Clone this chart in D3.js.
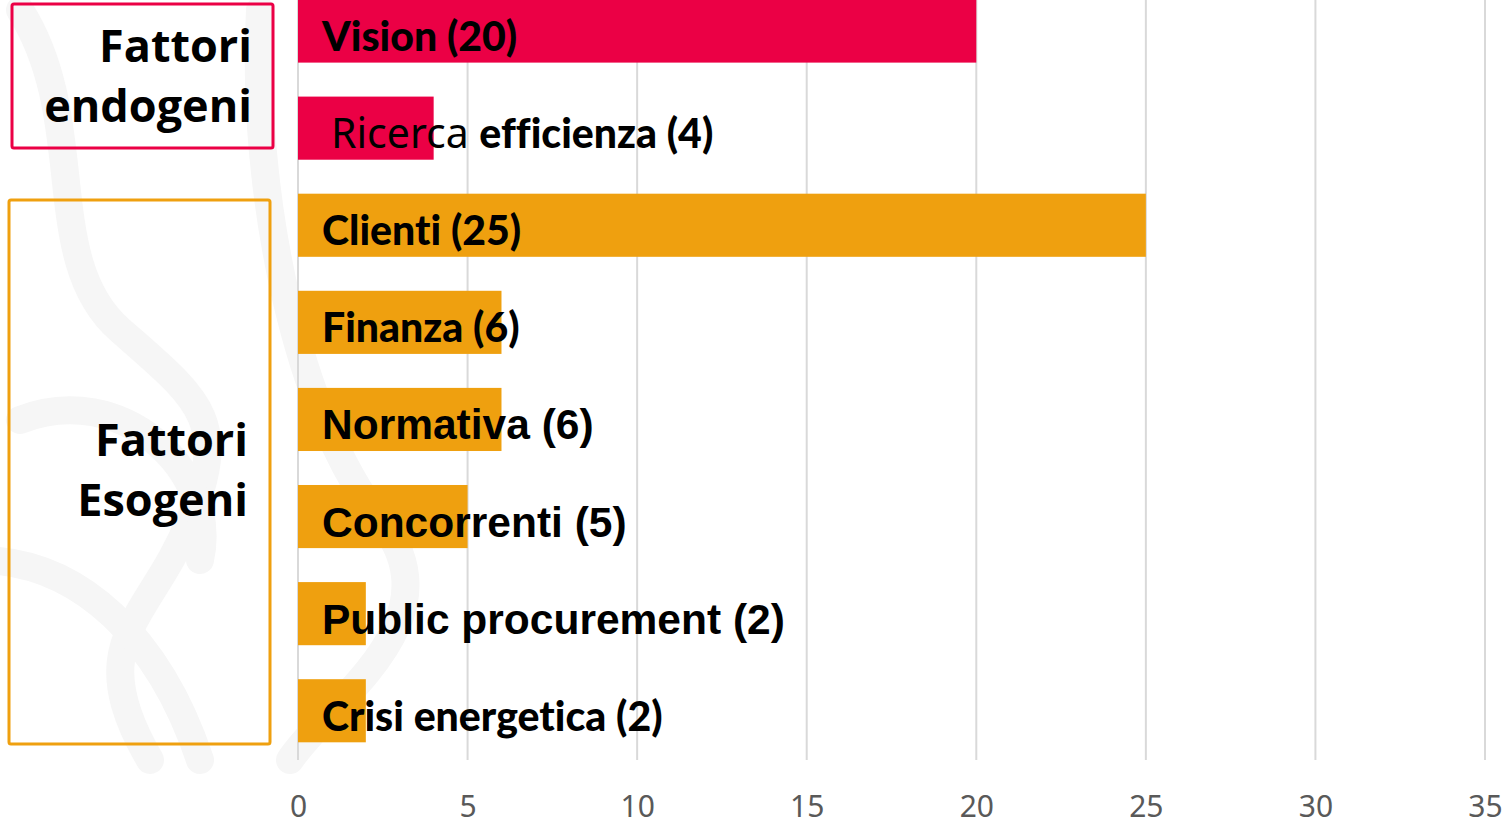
<!DOCTYPE html>
<html>
<head>
<meta charset="utf-8">
<script src="https://cdn.jsdelivr.net/npm/d3@7"></script>
<style>
  body { margin: 0; background: #fff; }
  svg { display: block; }
  text { font-variant-ligatures: none; }
</style>
</head>
<body>
<div id="container"></div>
<script>
// data
let categories = ["Vision", "Ricerca efficienza", "Clienti", "Finanza", "Normativa", "Concorrenti", "Public procurement", "Crisi energetica"];
let values = [20, 4, 25, 6, 6, 5, 2, 2];
let groups = ["endogeni", "endogeni", "esogeni", "esogeni", "esogeni", "esogeni", "esogeni", "esogeni"];
let groupTitles = [["Fattori", "endogeni"], ["Fattori", "Esogeni"]];
let xTicks = [0, 5, 10, 15, 20, 25, 30, 35];

let w = 1512;
let h = 826;

let red = "#eb0045";
let orange = "#efa00f";
let sansFont = "Lato, 'Noto Sans', sans-serif";
let arialFont = "'Liberation Sans', Arial, sans-serif";

let viz = d3.select("#container")
  .append("svg")
    .attr("width", w)
    .attr("height", h)
    .style("background-color", "white")
;

// faint watermark in the background
let wm = viz.append("g").attr("fill", "none").attr("stroke", "#f6f6f6").attr("stroke-width", 28).attr("stroke-linecap", "round");
wm.append("path").attr("d", "M20,10 C90,120 40,260 120,330 S230,420 190,520 S80,640 150,760");
wm.append("path").attr("d", "M-20,560 C80,560 160,640 200,760");
wm.append("path").attr("d", "M260,10 C250,200 300,420 380,520 S330,700 290,760");
wm.append("path").attr("d", "M20,420 C120,380 220,470 200,560");

let xScale = d3.scaleLinear().domain([0, 35]).range([298, 1485]);
let yScale = d3.scaleBand().domain(categories).range([-17.5, 759.3]).paddingInner(0.35).paddingOuter(0.175);

// gridlines
let grid = viz.append("g").attr("class", "grid");
grid.selectAll("line").data(xTicks).enter()
  .append("line")
    .attr("x1", d => xScale(d))
    .attr("x2", d => xScale(d))
    .attr("y1", 0)
    .attr("y2", 760)
    .attr("stroke", "#d9d9d9")
    .attr("stroke-width", 2)
;

// x axis
let xAxis = d3.axisBottom(xScale).tickValues(xTicks).tickSize(0).tickPadding(0);
let xAxisGroup = viz.append("g").attr("class", "xaxis")
  .attr("transform", "translate(0,817)")
  .call(xAxis);
xAxisGroup.select(".domain").remove();
xAxisGroup.selectAll("text")
  .attr("font-family", "'Liberation Sans Narrow', 'Noto Sans', sans-serif")
  .attr("font-size", 30)
  .attr("fill", "#595959")
  .attr("dy", 0);

// bars
let colorOf = g => g == "endogeni" ? red : orange;
let rows = categories.map((c, i) => ({name: c, value: values[i], group: groups[i]}));

let barGroup = viz.append("g").attr("class", "bars");
barGroup.selectAll("rect").data(rows).enter()
  .append("rect")
    .attr("x", xScale(0))
    .attr("y", d => yScale(d.name))
    .attr("width", d => xScale(d.value) - xScale(0))
    .attr("height", yScale.bandwidth())
    .attr("fill", d => colorOf(d.group))
;

// labels, mixed fonts like the original slide
let arialLabels = ["Normativa", "Concorrenti", "Public procurement"];
function labelParts(d) {
  let tail = " (" + d.value + ")";
  if (d.name == "Ricerca efficienza") {
    return [{t: "Ricerca ", f: "'Noto Sans', sans-serif", wt: 400, s: 41}, {t: "efficienza" + tail, f: sansFont, wt: 900, s: 41}];
  }
  if (arialLabels.includes(d.name)) {
    return [{t: d.name + tail, f: arialFont, wt: 700, s: 42.5}];
  }
  return [{t: d.name + tail, f: sansFont, wt: 900, s: 41}];
}

let labels = viz.append("g").attr("class", "labels");
let texts = labels.selectAll("text").data(rows).enter()
  .append("text")
    .attr("x", d => d.name == "Ricerca efficienza" ? 331 : 322)
    .attr("y", d => yScale(d.name) + yScale.bandwidth() / 2 + 20)
    .attr("fill", "black")
;
texts.selectAll("tspan").data(d => labelParts(d)).enter()
  .append("tspan")
    .attr("font-family", p => p.f)
    .attr("font-weight", p => p.wt)
    .attr("font-size", p => p.s)
    .text(p => p.t)
;

// group boxes
let boxes = [
  {x: 12, y: 4, w: 261, h: 144, c: red, lines: groupTitles[0], tx: 252, ty: 62},
  {x: 9, y: 200, w: 261, h: 544, c: orange, lines: groupTitles[1], tx: 248, ty: 456}
];
let boxGroup = viz.append("g").attr("class", "boxes");
boxGroup.selectAll("rect").data(boxes).enter()
  .append("rect")
    .attr("x", d => d.x)
    .attr("y", d => d.y)
    .attr("width", d => d.w)
    .attr("height", d => d.h)
    .attr("rx", 2)
    .attr("fill", "none")
    .attr("stroke", d => d.c)
    .attr("stroke-width", 3)
;
let titles = boxGroup.selectAll("text").data(boxes).enter()
  .append("text")
    .attr("text-anchor", "end")
    .attr("font-family", "'Open Sans', 'Noto Sans', sans-serif")
    .attr("font-weight", 700)
    .attr("font-size", 45)
    .attr("fill", "black")
;
titles.selectAll("tspan").data(d => d.lines.map((l, i) => ({l: l, x: d.tx, y: d.ty + i * 60}))).enter()
  .append("tspan")
    .attr("x", d => d.x)
    .attr("y", d => d.y)
    .text(d => d.l)
;
</script>
</body>
</html>
